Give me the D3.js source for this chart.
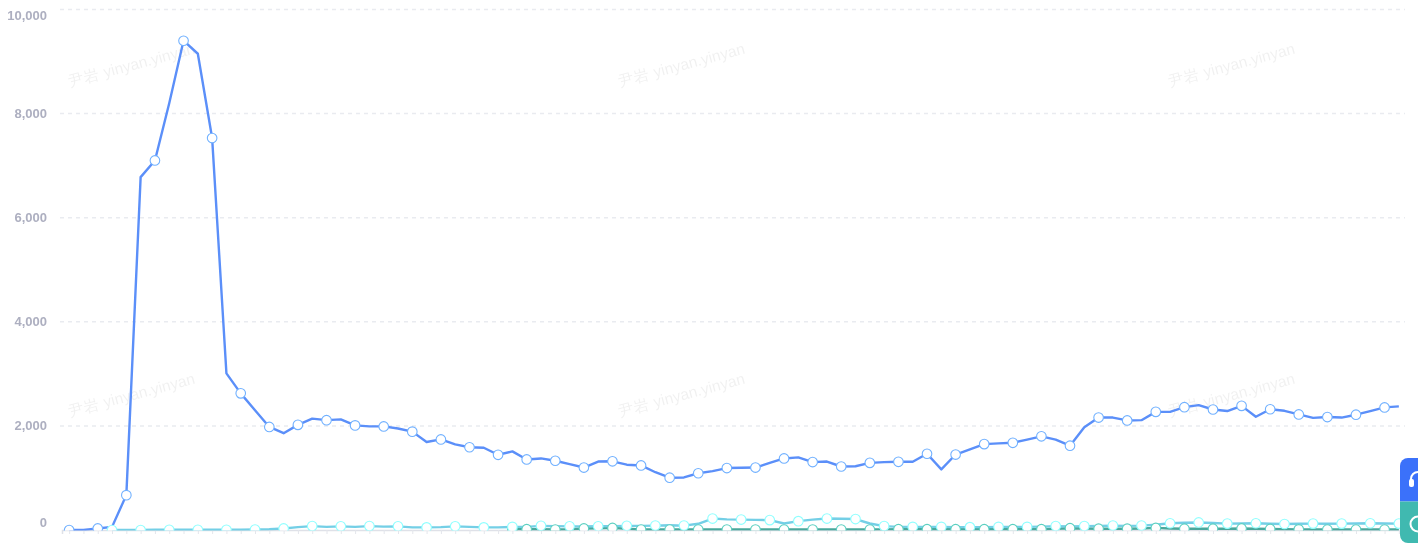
<!DOCTYPE html>
<html>
<head>
<meta charset="utf-8">
<script src="https://cdn.jsdelivr.net/npm/d3@7"></script>
<style>
html, body { margin: 0; padding: 0; background: #fff; overflow: hidden; }
svg { display: block; font-family: "Liberation Sans", Arial, sans-serif; filter: blur(0.3px); }
</style>
</head>
<body>
<svg id="chart" width="1418" height="543"></svg>
<script>
var blueValues = [0, 0, 30, 60, 670, 6780, 7100, 8200, 9400, 9150,
	7530, 3010, 2625, 2300, 1980, 1860, 2020, 2140, 2110, 2125,
	2010, 1990, 1990, 1950, 1890, 1690, 1740, 1645, 1590, 1580,
	1445, 1510, 1355, 1375, 1330, 1265, 1200, 1315, 1320, 1255,
	1240, 1110, 1005, 1010, 1090, 1130, 1190, 1195, 1200, 1290,
	1375, 1395, 1305, 1315, 1220, 1225, 1290, 1305, 1310, 1310,
	1465, 1165, 1450, 1550, 1650, 1665, 1675, 1735, 1800, 1735,
	1620, 1975, 2160, 2160, 2105, 2110, 2270, 2270, 2360, 2400,
	2315, 2285, 2385, 2175, 2320, 2290, 2220, 2155, 2170, 2160,
	2215, 2285, 2355, 2375];

var lightValues = [null, null, null, 0, 0, 0, 5, 5, 5, 5,
	5, 5, 5, 10, 15, 30, 55, 75, 60, 70,
	60, 75, 65, 70, 50, 50, 55, 70, 60, 50,
	50, 60, 60, 80, 75, 70, 70, 72, 75, 80,
	80, 85, 90, 85, 120, 220, 205, 200, 195, 190,
	125, 170, 200, 220, 215, 210, 125, 75, 60, 60,
	60, 60, 55, 55, 55, 60, 60, 60, 65, 75,
	70, 75, 80, 85, 80, 85, 100, 130, 140, 145,
	135, 123, 125, 130, 120, 115, 120, 123, 120, 123,
	125, 130, 125, 123];

var greenValues = [null, null, null, null, null, null, null, null, null, null,
	null, null, null, null, null, null, null, null, null, null,
	null, null, null, null, null, null, null, null, null, null,
	null, 20, 15, 15, 10, 15, 30, 35, 40, 25,
	10, 10, 10, 10, 10, 10, 10, 10, 10, 10,
	10, 10, 10, 10, 10, 10, 10, 12, 15, 15,
	15, 15, 15, 15, 15, 15, 15, 15, 15, 25,
	35, 30, 25, 25, 25, 30, 40, 30, 25, 25,
	25, 25, 30, 25, 20, 15, 12, 10, 10, 10,
	10, 10, 10, 10];

var categories = d3.range(blueValues.length);
var yTicks = [0, 2000, 4000, 6000, 8000, 10000];
var watermarkText = "尹岩 yinyan.yinyan";
var watermarkCols = [0, 1, 2];
var watermarkRows = [0, 1];

var margin = {top: 9.5, right: 12, bottom: 13, left: 62},
	width = 1418,
	height = 543;

var svg = d3.select("#chart");

var x = d3.scalePoint()
	.domain(categories)
	.range([margin.left, width - margin.right])
	.padding(0.5);

var y = d3.scaleLinear()
	.domain([0, 10000])
	.range([height - margin.bottom, margin.top]);

// watermark goes under everything
svg.append("g")
	.selectAll("text")
	.data(d3.cross(watermarkCols, watermarkRows))
	.enter().append("text")
	.attr("transform", function(d) { return "translate(" + (70 + d[0] * 550) + "," + (87 + d[1] * 330) + ") rotate(-15)"; })
	.attr("font-size", 15.5)
	.attr("fill", "#000")
	.attr("fill-opacity", 0.06)
	.text(watermarkText);

// grid lines
svg.append("g")
	.selectAll("line")
	.data(yTicks.filter(function(d) { return d > 0; }))
	.enter().append("line")
	.attr("x1", margin.left - 2)
	.attr("x2", width - margin.right - 1)
	.attr("y1", y)
	.attr("y2", y)
	.attr("stroke", "#e9ebf0")
	.attr("stroke-width", 1.5)
	.attr("stroke-dasharray", "4 4");

// x axis has ticks but no labels in view
var xAxis = svg.append("g")
	.attr("transform", "translate(0," + y(0) + ")")
	.call(d3.axisBottom(x).tickSize(4).tickFormat(""));
xAxis.selectAll("line").attr("stroke", "#e4e6ec");
xAxis.select(".domain").attr("stroke", "#dfe1e8").attr("stroke-width", 1.5);

// y labels, first and last are pulled inside
svg.append("g")
	.selectAll("text")
	.data(yTicks)
	.enter().append("text")
	.attr("x", 47)
	.attr("y", function(d) { return y(d) + (d == 0 ? -8 : d == 10000 ? 5.5 : 0); })
	.attr("dy", "0.35em")
	.attr("text-anchor", "end")
	.attr("font-size", 13)
	.attr("font-weight", "bold")
	.attr("fill", "#adafc0")
	.text(function(d) { return d3.format(",")(d); });

svg.append("clipPath")
	.attr("id", "plot-clip")
	.append("rect")
	.attr("x", 0)
	.attr("y", 0)
	.attr("width", width)
	.attr("height", y(0) + 0.5);

var valueline = d3.line()
	.defined(function(d) { return d != null; })
	.x(function(d, i) { return x(categories[i]); })
	.y(function(d) { return y(d); });

var series = [
	{name: "green", values: greenValues, color: "#4aa89c", show: function(i) { return i == 31 || (i > 31 && i % 2 == 0); }},
	{name: "light", values: lightValues, color: "#74cfe6", show: function(i) { return i % 2 == 1; }},
	{name: "blue", values: blueValues, color: "#5b8ff9", show: function(i) { return i % 2 == 0; }}
];

var plot = svg.append("g").attr("clip-path", "url(#plot-clip)");

series.forEach(function(s) {
	plot.append("path")
		.datum(s.values)
		.attr("class", "line")
		.attr("fill", "none")
		.attr("stroke", s.color)
		.attr("stroke-width", 2.4)
		.attr("stroke-linejoin", "round")
		.attr("d", valueline);
});

series.forEach(function(s) {
	plot.append("g")
		.selectAll("circle")
		.data(s.values.map(function(v, i) { return {v: v, i: i}; })
			.filter(function(d) { return d.v != null && s.show(d.i); }))
		.enter().append("circle")
		.attr("cx", function(d) { return x(categories[d.i]); })
		.attr("cy", function(d) { return y(d.v); })
		.attr("r", 4.8)
		.attr("fill", "#fff")
		.attr("stroke", d3.color(s.color).brighter(0.6))
		.attr("stroke-width", 1.1);
});

// page widget stuck in the corner
var widget = svg.append("g");
widget.append("path")
	.attr("d", "M1418,458H1408a8,8 0 0 0 -8,8V501.5H1418Z")
	.attr("fill", "#3b71fa");
widget.append("path")
	.attr("d", "M1400,501.5V535a8,8 0 0 0 8,8H1418V501.5Z")
	.attr("fill", "#40b9b0");
widget.append("path")
	.attr("d", "M1411,485V479a7,7 0 0 1 7,-7")
	.attr("fill", "none")
	.attr("stroke", "#fff")
	.attr("stroke-width", 2);
widget.append("rect")
	.attr("x", 1409)
	.attr("y", 479)
	.attr("width", 5)
	.attr("height", 8)
	.attr("rx", 2)
	.attr("fill", "#fff");
widget.append("circle")
	.attr("cx", 1418)
	.attr("cy", 524)
	.attr("r", 7.5)
	.attr("fill", "none")
	.attr("stroke", "#fff")
	.attr("stroke-width", 2);
</script>
</body>
</html>
